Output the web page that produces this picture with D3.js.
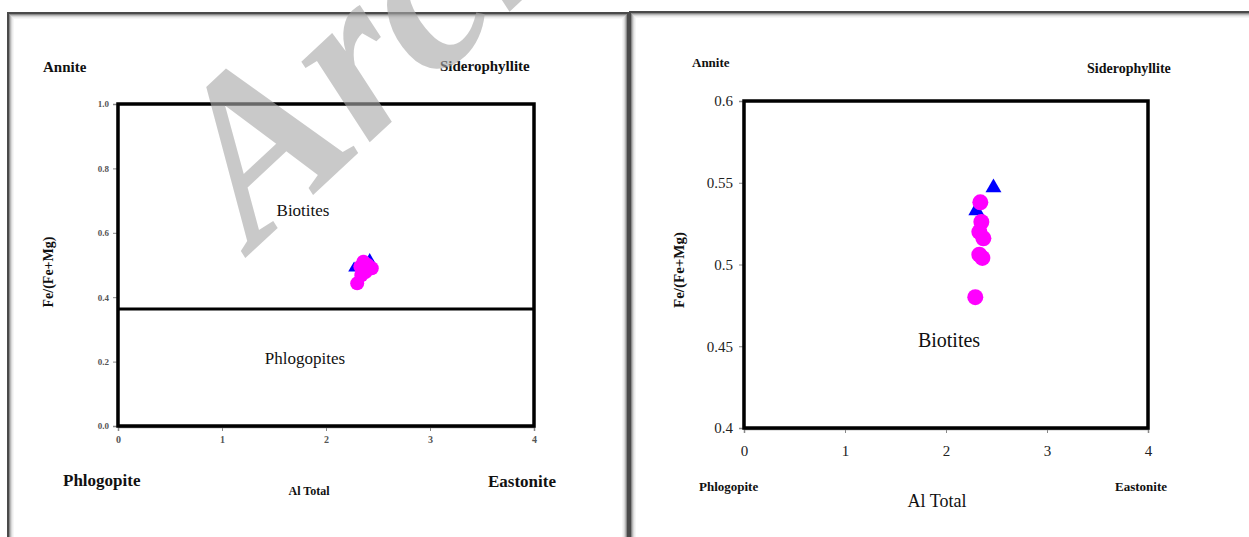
<!DOCTYPE html>
<html>
<head>
<meta charset="utf-8">
<script src="https://cdn.jsdelivr.net/npm/d3@7"></script>
<style>
  body { margin: 0; background: #fff; }
  svg { display: block; }
  text { font-family: "Liberation Serif", "Times New Roman", serif; }
</style>
</head>
<body>
<div id="chart"></div>
<script>
// values
const xTicks = [0, 1, 2, 3, 4];
const leftYTicks = [0, 0.2, 0.4, 0.6, 0.8, 1.0];
const rightYTicks = [0.4, 0.45, 0.5, 0.55, 0.6];
const boundary = 0.363; // Phlogopites / Biotites split on the left diagram

const leftCircleX = [2.30, 2.34, 2.36, 2.40, 2.44, 2.38, 2.33];
const leftCircleY = [0.443, 0.468, 0.510, 0.500, 0.490, 0.478, 0.495];
const leftTriX = [2.42, 2.27];
const leftTriY = [0.516, 0.490];

const rightCircleX = [2.34, 2.35, 2.33, 2.37, 2.33, 2.36, 2.29];
const rightCircleY = [0.538, 0.526, 0.520, 0.516, 0.506, 0.504, 0.480];
const rightTriX = [2.47, 2.30];
const rightTriY = [0.547, 0.533];

const W = 1249, H = 537;

const svg = d3.select('#chart').append('svg')
  .attr('width', W)
  .attr('height', H);

// panel frames with a soft inner shadow
const frame = (x, y, w, h) => {
  const shades = ['#4a4a4a', '#4a4a4a', '#8a8a8a', '#b8b8b8', '#d8d8d8', '#ececec', '#f6f6f6'];
  shades.forEach((c, i) => {
    svg.append('rect')
      .attr('x', x + i + 0.5).attr('y', y + i + 0.5)
      .attr('width', w - 2 * i).attr('height', h - 2 * i)
      .attr('fill', 'none')
      .attr('stroke', c)
      .attr('stroke-width', 1);
  });
}
frame(7, 12, 621, 540);
frame(629, 11, 640, 540);

const drawPanel = (cfg) => {
  const x = d3.scaleLinear().domain([0, 4]).range([cfg.left, cfg.right]);
  const y = d3.scaleLinear().domain(cfg.yDomain).range([cfg.bottom, cfg.top]);
  const g = svg.append('g');

  // axes
  const yAxis = g.append('g')
    .attr('transform', `translate(${cfg.left - 1},0)`)
    .call(d3.axisLeft(y).tickValues(cfg.yTicks).tickFormat(cfg.yFormat).tickSize(4).tickPadding(cfg.yPad));
  const xAxis = g.append('g')
    .attr('transform', `translate(0,${cfg.bottom + 1})`)
    .call(d3.axisBottom(x).tickValues(xTicks).tickFormat(d3.format('d')).tickSize(4).tickPadding(cfg.xPad));
  [yAxis, xAxis].forEach(a => {
    a.attr('font-family', null);
    a.select('.domain').attr('stroke', '#888').attr('stroke-width', 1.5);
    a.selectAll('.tick line').attr('stroke', '#888');
    a.selectAll('.tick text')
      .attr('fill', cfg.tickColor)
      .style('font-weight', cfg.tickWeight);
  });
  yAxis.selectAll('.tick text').style('font-size', cfg.yTickSize + 'px');
  xAxis.selectAll('.tick text').style('font-size', cfg.xTickSize + 'px');

  // plot box
  g.append('rect')
    .attr('x', x(0)).attr('y', y(cfg.yDomain[1]))
    .attr('width', x(4) - x(0))
    .attr('height', y(cfg.yDomain[0]) - y(cfg.yDomain[1]))
    .attr('fill', 'none')
    .attr('stroke', '#000')
    .attr('stroke-width', cfg.boxWidth);

  if (cfg.split != null) {
    g.append('line')
      .attr('x1', x(0)).attr('x2', x(4))
      .attr('y1', y(cfg.split)).attr('y2', y(cfg.split))
      .attr('stroke', '#000')
      .attr('stroke-width', 3);
  }

  // blue triangles under the magenta circles
  const tri = d3.symbol().type(d3.symbolTriangle).size(cfg.triSize);
  g.selectAll('.tri')
    .data(cfg.triX.map((v, i) => [v, cfg.triY[i]]))
    .enter().append('path')
    .attr('class', 'tri')
    .attr('d', tri)
    .attr('transform', d => `translate(${x(d[0])},${y(d[1])})`)
    .attr('fill', '#0000ff');

  g.selectAll('.pt')
    .data(cfg.cx.map((v, i) => [v, cfg.cy[i]]))
    .enter().append('circle')
    .attr('class', 'pt')
    .attr('cx', d => x(d[0]))
    .attr('cy', d => y(d[1]))
    .attr('r', cfg.r)
    .attr('fill', '#ff00ff');

  // labels
  const label = (t, px, py, size, weight, anchor, rot) => {
    const el = g.append('text')
      .attr('x', px).attr('y', py)
      .attr('font-size', size)
      .attr('font-weight', weight)
      .attr('text-anchor', anchor || 'start')
      .attr('fill', '#111')
      .text(t);
    if (rot) el.attr('transform', `rotate(${rot},${px},${py})`);
  }
  cfg.labels.forEach(l => label(...l));
}

drawPanel({
  left: 118, right: 534, top: 104, bottom: 426,
  yDomain: [0, 1], yTicks: leftYTicks, yFormat: d3.format('.1f'),
  yPad: 4, xPad: 5, yTickSize: 9, xTickSize: 10,
  tickColor: '#555', tickWeight: 'bold', boxWidth: 3.5,
  split: boundary,
  cx: leftCircleX, cy: leftCircleY, r: 7,
  triX: leftTriX, triY: leftTriY, triSize: 60,
  labels: [
    ['Annite', 43, 72, 15, 'bold'],
    ['Siderophyllite', 440, 71, 15, 'bold'],
    ['Biotites', 303, 216, 17, 'normal', 'middle'],
    ['Phlogopites', 305, 364, 17, 'normal', 'middle'],
    ['Phlogopite', 63, 486, 17, 'bold'],
    ['Eastonite', 488, 487, 17, 'bold'],
    ['Al Total', 309, 495, 12, 'bold', 'middle'],
    ['Fe/(Fe+Mg)', 53, 272, 14, 'bold', 'middle', -90]
  ]
});

drawPanel({
  left: 744, right: 1148, top: 101, bottom: 428,
  yDomain: [0.4, 0.6], yTicks: rightYTicks, yFormat: d3.format('~g'),
  yPad: 6, xPad: 12, yTickSize: 15, xTickSize: 15,
  tickColor: '#222', tickWeight: 'normal', boxWidth: 3.5,
  split: null,
  cx: rightCircleX, cy: rightCircleY, r: 8,
  triX: rightTriX, triY: rightTriY, triSize: 110,
  labels: [
    ['Annite', 692, 67, 13, 'bold'],
    ['Siderophyllite', 1087, 73, 14, 'bold'],
    ['Biotites', 949, 347, 20, 'normal', 'middle'],
    ['Phlogopite', 699, 491, 13, 'bold'],
    ['Eastonite', 1115, 491, 13, 'bold'],
    ['Al Total', 937, 507, 18, 'normal', 'middle'],
    ['Fe/(Fe+Mg)', 684, 270, 15, 'bold', 'middle', -90]
  ]
});

// watermark laid over the left panel
svg.append('text')
  .attr('x', 0).attr('y', 0)
  .attr('transform', 'translate(254,250) rotate(-43)')
  .attr('font-size', 230)
  .attr('font-style', 'italic')
  .attr('font-weight', 'bold')
  .attr('fill', '#a8a8a8')
  .attr('fill-opacity', 0.62)
  .text('Archive');
</script>
</body>
</html>
